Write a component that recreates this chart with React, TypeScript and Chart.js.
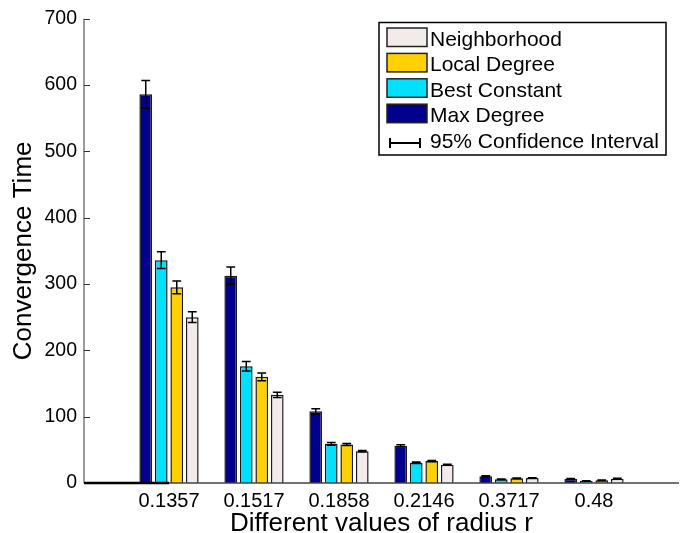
import React, { useEffect, useRef } from 'react';
import { Chart, registerables } from 'chart.js';

Chart.register(...registerables);

const FONT = '"Liberation Sans", Arial, Helvetica, sans-serif';

const categories = ['0.1357', '0.1517', '0.1858', '0.2146', '0.3717', '0.48'];

const maxDegree = [586, 312.5, 108, 56, 10, 6];
const maxDegreeErr = [21, 13, 4, 1.5, 1, 0.8];
const bestConstant = [336, 176, 59, 30.5, 5.5, 3];
const bestConstantErr = [12.5, 7, 2, 1, 0.5, 0.5];
const localDegree = [295, 160, 58, 33, 7, 4];
const localDegreeErr = [9.5, 6, 1.5, 1, 0.5, 0.5];
const neighborhood = [250, 133, 48, 27.5, 7.5, 6.5];
const neighborhoodErr = [8, 4, 1, 0.8, 0.5, 0.5];

const yTicks = [0, 100, 200, 300, 400, 500, 600, 700];

const seriesNames = ['Max Degree', 'Best Constant', 'Local Degree', 'Neighborhood'];
const seriesColors = ['#00008C', '#00E1FF', '#FFD100', '#F3EAEA'];
const seriesValues = [maxDegree, bestConstant, localDegree, neighborhood];
const seriesErrors = [maxDegreeErr, bestConstantErr, localDegreeErr, neighborhoodErr];
const ciLabel = '95% Confidence Interval';

// padded labels: empty slot at each end (x range 0..7, groups at 1..6)
const xLabels = ['', ...categories, ''];
const pad = (arr: number[]) => [null, ...arr, null];

const errorBarPlugin = {
  id: 'errorBars',
  afterDatasetsDraw(chart: any) {
    const { ctx } = chart;
    const yScale = chart.scales.y;
    ctx.save();
    ctx.strokeStyle = '#000';
    ctx.lineWidth = 1.5;
    chart.data.datasets.forEach((ds: any, di: number) => {
      const meta = chart.getDatasetMeta(di);
      const errs = seriesErrors[di];
      meta.data.forEach((el: any, idx: number) => {
        const v = ds.data[idx];
        if (v == null) return;
        const e = errs[idx - 1];
        const x = el.x;
        const yT = yScale.getPixelForValue(v + e);
        const yB = yScale.getPixelForValue(Math.max(0, v - e));
        const cw = 4.4;
        ctx.beginPath();
        ctx.moveTo(x, yT);
        ctx.lineTo(x, yB);
        ctx.moveTo(x - cw, yT);
        ctx.lineTo(x + cw, yT);
        ctx.moveTo(x - cw, yB);
        ctx.lineTo(x + cw, yB);
        ctx.stroke();
      });
    });
    ctx.restore();
  },
};

const axesPlugin = {
  id: 'matlabAxes',
  afterDatasetsDraw(chart: any) {
    const { ctx, chartArea } = chart;
    const { left, right, top, bottom } = chartArea;
    const yScale = chart.scales.y;
    const xScale = chart.scales.x;
    ctx.save();
    // y axis
    ctx.strokeStyle = '#7a7a7a';
    ctx.lineWidth = 1.5;
    ctx.beginPath();
    ctx.moveTo(left, top);
    ctx.lineTo(left, bottom);
    ctx.stroke();
    // inner ticks
    ctx.strokeStyle = '#333';
    ctx.lineWidth = 1;
    yTicks.forEach((t) => {
      const y = Math.round(yScale.getPixelForValue(t)) + 0.5;
      ctx.beginPath();
      ctx.moveTo(left, y);
      ctx.lineTo(left + 6, y);
      ctx.stroke();
    });
    // x axis
    ctx.strokeStyle = '#444';
    ctx.lineWidth = 1.5;
    ctx.beginPath();
    ctx.moveTo(left, bottom);
    ctx.lineTo(right, bottom);
    ctx.stroke();
    // thick baseline segment up to first group
    ctx.strokeStyle = '#000';
    ctx.lineWidth = 2.5;
    ctx.beginPath();
    ctx.moveTo(left, bottom);
    ctx.lineTo(xScale.getPixelForValue(1), bottom);
    ctx.stroke();
    ctx.restore();
  },
};

const legendPlugin = {
  id: 'boxLegend',
  afterDraw(chart: any) {
    const { ctx } = chart;
    ctx.save();
    const bx = 379, by = 22.5, bw = 287, bh = 132.5;
    ctx.fillStyle = '#fff';
    ctx.fillRect(bx, by, bw, bh);
    ctx.strokeStyle = '#000';
    ctx.lineWidth = 1.5;
    ctx.strokeRect(bx, by, bw, bh);
    ctx.font = `21px ${FONT}`;
    ctx.textBaseline = 'alphabetic';
    ctx.textAlign = 'left';
    const order = [3, 2, 1, 0];
    const step = 25.4;
    order.forEach((si, k) => {
      const base = 46 + k * step;
      ctx.fillStyle = seriesColors[si];
      ctx.fillRect(387, base - 18, 40, 18.5);
      ctx.strokeStyle = '#222';
      ctx.lineWidth = 1.5;
      ctx.strokeRect(387, base - 18, 40, 18.5);
      ctx.fillStyle = '#000';
      ctx.fillText(seriesNames[si], 430, base);
    });
    const base = 46 + 4 * step;
    const ly = base - 4.5;
    ctx.strokeStyle = '#000';
    ctx.lineWidth = 2;
    ctx.beginPath();
    ctx.moveTo(390, ly);
    ctx.lineTo(420, ly);
    ctx.moveTo(390, ly - 5);
    ctx.lineTo(390, ly + 5);
    ctx.moveTo(420, ly - 5);
    ctx.lineTo(420, ly + 5);
    ctx.stroke();
    ctx.fillStyle = '#000';
    ctx.fillText(ciLabel, 430, base);
    ctx.restore();
  },
};

export default function App() {
  const canvasRef = useRef<HTMLCanvasElement | null>(null);

  useEffect(() => {
    document.body.style.margin = '0';
    const canvas = canvasRef.current;
    if (!canvas) return;
    const chart = new Chart(canvas, {
      type: 'bar',
      data: {
        labels: xLabels,
        datasets: seriesNames.map((name, i) => ({
          label: name,
          data: pad(seriesValues[i]) as any,
          backgroundColor: seriesColors[i],
          borderColor: '#1a1a1a',
          borderWidth: 1.5,
          categoryPercentage: 0.73,
          barPercentage: 0.82,
        })),
      },
      options: {
        animation: false,
        responsive: false,
        maintainAspectRatio: false,
        layout: { padding: { top: 14, right: 9, left: 0, bottom: 0 } },
        plugins: {
          legend: { display: false },
          tooltip: { enabled: false },
        },
        scales: {
          x: {
            type: 'category',
            offset: false,
            grid: { display: false, drawTicks: false },
            border: { display: false },
            ticks: {
              autoSkip: false,
              maxRotation: 0,
              color: '#000',
              padding: 6,
              font: { family: FONT, size: 20 },
            },
            title: {
              display: true,
              text: 'Different values of radius r',
              color: '#000',
              padding: 0,
              font: { family: FONT, size: 26, lineHeight: 0.72 },
            },
            afterFit: (s: any) => {
              s.height = 50;
            },
          },
          y: {
            min: 0,
            max: 700,
            grid: { display: false, drawTicks: false },
            border: { display: false },
            ticks: {
              stepSize: 100,
              color: '#000',
              padding: 7,
              font: { family: FONT, size: 19.5 },
            },
            title: {
              display: true,
              text: 'Convergence Time',
              color: '#000',
              padding: { top: 11, bottom: 0 },
              font: { family: FONT, size: 26, lineHeight: 1 },
            },
            afterFit: (s: any) => {
              s.width = 84;
            },
          },
        },
      } as any,
      plugins: [axesPlugin, errorBarPlugin, legendPlugin],
    });
    return () => chart.destroy();
  }, []);

  return (
    <div style={{ width: 688, height: 533, background: '#fff' }}>
      <canvas ref={canvasRef} width={688} height={533} style={{ display: 'block' }} />
    </div>
  );
}
